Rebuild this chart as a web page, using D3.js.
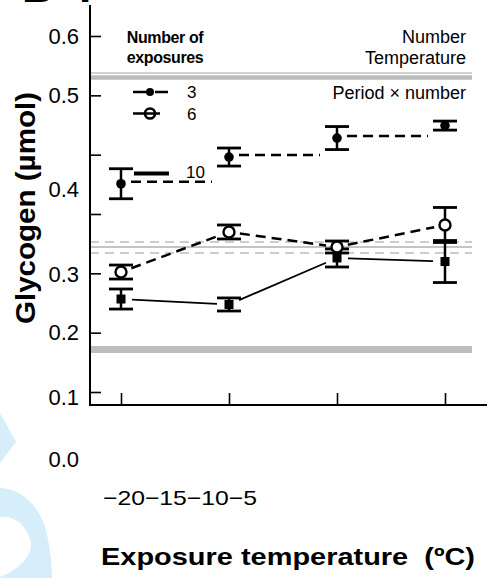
<!DOCTYPE html>
<html><head><meta charset="utf-8">
<script src="https://cdn.jsdelivr.net/npm/d3@7"></script>
<style>html,body{margin:0;padding:0;background:#fff}svg{display:block}text{font-family:"Liberation Sans",Arial,Helvetica,sans-serif}</style>
</head><body><svg id="c" width="487" height="578"></svg>
<script>
// ---- data ----
const temps = [-20, -15, -10, -5];
const xTickLabels = ["−20", "−15", "−10", "−5"];
const yTickValues = [0, 0.1, 0.2, 0.3, 0.4, 0.5, 0.6];
const yTickLabels = ["0.6", "0.5", "0.4", "0.3", "0.2", "0.1", "0.0"];
const yTickLabelAt = [0.6, 0.5, 0.342, 0.199, 0.101, -0.008, -0.113];
const exp3Mean = [0.351, 0.396, 0.428, 0.449];
const exp3SE = [0.0253, 0.0152, 0.0194, 0.0076];
const exp6Mean = [0.2022, 0.2697, 0.2444, 0.2815];
const exp6SE = [0.0118, 0.0118, 0.0101, 0.0295];
const exp10Mean = [0.1567, 0.1475, 0.2259, 0.2199];
const exp10SE = [0.0169, 0.011, 0.0152, 0.0354];
const legendLabels = ["3", "6", "10"];
const refTop = [0.5376, 0.5301];
const refMid = [0.2528, 0.2444, 0.2343];
const refLow = [0.0716];
const sigLabels = ["Number", "Temperature", "Period × number"];

// ---- drawing ----
const svg = d3.select("#c");
const y = d3.scaleLinear().domain([0, 0.6]).range([392, 36]);
const x = d3.scaleLinear().domain([-20, -5]).range([121, 445]);
const xL = 90, xR = 472;

// decorative background shape
svg.append("path").attr("fill", "#d5eefa").attr("fill-rule", "evenodd")
  .attr("d", "M0,413 L16,442 L0,463 Z M0,488 C20,489 38,503 46,530 C50,548 52,565 52,578 L0,578 Z M0,517 C15,515 28,527 31,543 C32,558 16,571 0,577 Z");

// cut-off panel letter
svg.append("text").attr("x", 22).attr("y", 2).attr("font-size", 44).attr("font-weight", "bold").text("B");
svg.append("text").attr("x", 79).attr("y", 2).attr("font-size", 44).attr("font-weight", "bold").text(".");

// reference bands
svg.append("line").attr("x1", xL).attr("x2", xR).attr("y1", y(refTop[0])).attr("y2", y(refTop[0]))
  .attr("stroke", "#d2d2d2").attr("stroke-width", 2.2);
svg.append("line").attr("x1", xL).attr("x2", xR).attr("y1", y(refTop[1])).attr("y2", y(refTop[1]))
  .attr("stroke", "#bcbcbc").attr("stroke-width", 4.5);
refMid.forEach((v, i) => {
  svg.append("line").attr("x1", xL).attr("x2", xR).attr("y1", y(v)).attr("y2", y(v))
    .attr("stroke", i === 1 ? "#c4c4c4" : "#cdcdcd").attr("stroke-width", 2.2)
    .attr("stroke-dasharray", i === 1 ? null : "9,6");
});
svg.append("line").attr("x1", xL).attr("x2", xR).attr("y1", y(refLow[0])).attr("y2", y(refLow[0]))
  .attr("stroke", "#bdbdbd").attr("stroke-width", 7);

// axes
const yAx = svg.append("g").attr("transform", `translate(${xL},0)`)
  .call(d3.axisLeft(y).tickValues(yTickValues).tickSize(-11).tickFormat(""));
yAx.select(".domain").remove();
yAx.selectAll(".tick line").attr("stroke", "#000").attr("stroke-width", 1.6);
svg.append("line").attr("x1", xL).attr("x2", xL).attr("y1", 5).attr("y2", 406).attr("stroke", "#000").attr("stroke-width", 2);

const xAx = svg.append("g").attr("transform", `translate(0,405)`)
  .call(d3.axisBottom(x).tickValues(temps).tickSize(-12).tickFormat(""));
xAx.select(".domain").remove();
xAx.selectAll(".tick line").attr("stroke", "#000").attr("stroke-width", 1.6);
svg.append("line").attr("x1", xL - 1).attr("x2", 487).attr("y1", 405).attr("y2", 405).attr("stroke", "#000").attr("stroke-width", 2);

// y tick labels (placed as in the reference)
svg.selectAll(".ylab").data(yTickLabels).join("text").attr("class", "ylab")
  .attr("x", 79).attr("y", (d, i) => y(yTickLabelAt[i])).attr("dy", "0.36em")
  .attr("text-anchor", "end").attr("font-size", 22).text(d => d);

// x tick labels (run together)
svg.append("text").attr("x", 103).attr("y", 505).attr("font-size", 21)
  .attr("textLength", 154).attr("lengthAdjust", "spacingAndGlyphs").text(xTickLabels.join(""));

// axis titles
svg.append("text").attr("x", 101).attr("y", 565).attr("font-size", 24.5).attr("font-weight", "bold")
  .style("white-space", "pre").attr("textLength", 374).attr("lengthAdjust", "spacingAndGlyphs")
  .text("Exposure temperature  (ºC)");
svg.append("text").attr("transform", "translate(35,208) rotate(-90)").attr("text-anchor", "middle")
  .attr("font-size", 28).attr("font-weight", "bold").attr("textLength", 232).attr("lengthAdjust", "spacingAndGlyphs")
  .text("Glycogen (µmol)");

// helper: trimmed segment
function trimmed(x0, y0, x1, y1, t0, t1) {
  const dx = x1 - x0, dy = y1 - y0, L = Math.hypot(dx, dy);
  return [x0 + dx * t0 / L, y0 + dy * t0 / L, x1 - dx * t1 / L, y1 - dy * t1 / L];
}

// series 3: step-like dashed segments
exp3Mean.slice(0, 3).forEach((m, i) => {
  svg.append("line").attr("x1", x(temps[i]) + 10).attr("x2", x(temps[i]) + 91)
    .attr("y1", y(m) - 2).attr("y2", y(m) - 2)
    .attr("stroke", "#000").attr("stroke-width", 2.5).attr("stroke-dasharray", "10,6");
});
// series 6: dashed connecting line
for (let i = 0; i < 3; i++) {
  const s = trimmed(x(temps[i]), y(exp6Mean[i]), x(temps[i + 1]), y(exp6Mean[i + 1]), 11, 11);
  svg.append("line").attr("x1", s[0]).attr("y1", s[1]).attr("x2", s[2]).attr("y2", s[3])
    .attr("stroke", "#000").attr("stroke-width", 2.5).attr("stroke-dasharray", "10,6");
}
// series 10: solid connecting line
for (let i = 0; i < 3; i++) {
  const s = trimmed(x(temps[i]), y(exp10Mean[i]), x(temps[i + 1]), y(exp10Mean[i + 1]), 11, 12);
  svg.append("line").attr("x1", s[0]).attr("y1", s[1]).attr("x2", s[2]).attr("y2", s[3])
    .attr("stroke", "#000").attr("stroke-width", 1.8);
}

// error bars
function errorBars(means, ses) {
  means.forEach((m, i) => {
    const cx = x(temps[i]), t = y(m + ses[i]), b = y(m - ses[i]);
    svg.append("line").attr("x1", cx).attr("x2", cx).attr("y1", t).attr("y2", b).attr("stroke", "#000").attr("stroke-width", 2.5);
    [t, b].forEach(yy => svg.append("line").attr("x1", cx - 12).attr("x2", cx + 12).attr("y1", yy).attr("y2", yy)
      .attr("stroke", "#000").attr("stroke-width", 2.8));
  });
}
errorBars(exp3Mean, exp3SE);
errorBars(exp6Mean, exp6SE);
errorBars(exp10Mean, exp10SE);

// markers
svg.selectAll(".m3").data(exp3Mean).join("circle").attr("class", "m3")
  .attr("cx", (d, i) => x(temps[i])).attr("cy", d => y(d)).attr("r", 4.8).attr("fill", "#000");
svg.selectAll(".m6").data(exp6Mean).join("circle").attr("class", "m6")
  .attr("cx", (d, i) => x(temps[i])).attr("cy", d => y(d)).attr("r", 5.5)
  .attr("fill", "#fff").attr("stroke", "#000").attr("stroke-width", 2.4);
svg.selectAll(".m10").data(exp10Mean).join("rect").attr("class", "m10")
  .attr("x", (d, i) => x(temps[i]) - 4.5).attr("y", d => y(d) - 4.5).attr("width", 9).attr("height", 9).attr("fill", "#000");

// legend
svg.append("text").attr("x", 165).attr("y", 43).attr("text-anchor", "middle").attr("font-size", 16)
  .attr("font-weight", "bold").attr("letter-spacing", -0.4).text("Number of");
svg.append("text").attr("x", 165).attr("y", 63).attr("text-anchor", "middle").attr("font-size", 16)
  .attr("font-weight", "bold").attr("letter-spacing", -0.4).text("exposures");
const legY = [92, 113.5, 173.5];
svg.append("line").attr("x1", 133).attr("x2", 168).attr("y1", legY[0]).attr("y2", legY[0])
  .attr("stroke", "#000").attr("stroke-width", 2.5).attr("stroke-dasharray", "14,8");
svg.append("circle").attr("cx", 150).attr("cy", legY[0]).attr("r", 4).attr("fill", "#000");
svg.append("circle").attr("cx", 150).attr("cy", legY[1]).attr("r", 5).attr("fill", "#fff").attr("stroke", "#000").attr("stroke-width", 2.6);
svg.append("line").attr("x1", 133).attr("x2", 160).attr("y1", legY[1]).attr("y2", legY[1])
  .attr("stroke", "#000").attr("stroke-width", 2.5);
svg.append("line").attr("x1", 134).attr("x2", 169).attr("y1", legY[2]).attr("y2", legY[2])
  .attr("stroke", "#000").attr("stroke-width", 4);
svg.selectAll(".leglab").data(legendLabels).join("text").attr("class", "leglab")
  .attr("x", (d, i) => i === 2 ? 186 : 187).attr("y", (d, i) => legY[i] - (i === 2 ? 1.5 : 0)).attr("dy", "0.36em")
  .attr("font-size", 17).text(d => d);

// significance labels
const sigY = [36.5, 58, 93];
svg.selectAll(".sig").data(sigLabels).join("text").attr("class", "sig")
  .attr("x", 466).attr("y", (d, i) => sigY[i]).attr("dy", "0.36em").attr("text-anchor", "end")
  .attr("font-size", 18).text(d => d);
</script></body></html>
